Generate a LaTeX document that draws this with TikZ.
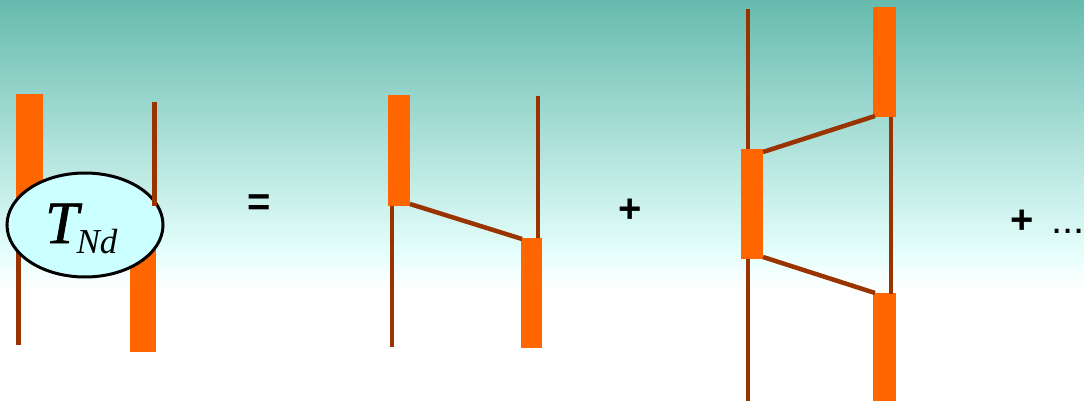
\documentclass[tikz,border=0pt]{standalone}
\usepackage{fontspec}
\setmainfont{Liberation Serif}
\newfontfamily\symfont{Liberation Sans}
\newfontface\Tface{Liberation Serif Italic}[FakeBold=1.2]
\newfontface\Nface{Liberation Serif Italic}
\usetikzlibrary{shapes.geometric,calc}
\definecolor{teal1}{RGB}{102,187,174}
\definecolor{pale}{RGB}{230,255,252}
\definecolor{barorange}{RGB}{255,102,0}
\definecolor{wirebrown}{RGB}{153,51,0}
\definecolor{ellfill}{RGB}{204,255,255}
\tikzset{
  bar/.style={rectangle, fill=barorange, draw=none, inner sep=0pt, outer sep=0pt},
  wire/.style={draw=wirebrown, line width=4.5pt},
  opsign/.style={inner sep=0pt, font=\symfont\bfseries\fontsize{40}{40}\selectfont},
}
\begin{document}
\begin{tikzpicture}[x=1pt,y=-1pt]
\useasboundingbox (0,0) rectangle (1084,401);
% background
\shade[top color=teal1, bottom color=pale] (0,0) rectangle (1084,255);
\shade[top color=pale, bottom color=white] (0,254.5) rectangle (1084,290);
\fill[white] (0,289.5) rectangle (1084,401);

% ---- diagram 1: T_Nd ----
\node[bar, minimum width=27pt, minimum height=121pt] (L1) at (29.5,154.5) {};
\node[bar, minimum width=26pt, minimum height=117pt] (R1) at (143,293.5) {};
\coordinate (l1end) at (18.5,345);
\coordinate (r1top) at (154.5,102);
\coordinate (r1end) at (154.5,206);
\draw[wire] (l1end |- L1.south) -- (l1end);
\node[ellipse, draw=black, line width=3pt, fill=ellfill, minimum width=156pt, minimum height=104pt, inner sep=0pt] (T) at (85,225) {};
\draw[wire] (r1top) -- (r1end);
\node[anchor=base west, inner sep=0pt] (tnd) at (45,243)
  {{\fontsize{60}{60}\selectfont\Tface T}\kern-2pt\raisebox{-10pt}{\fontsize{35}{35}\selectfont\Nface Nd}};

% equals
\node[opsign, anchor=base] (eq) at (259,215) {=};

% ---- diagram 2 ----
\node[bar, minimum width=22pt, minimum height=111pt] (A) at (399,150.5) {};
\node[bar, minimum width=21pt, minimum height=110pt] (B) at (531.5,293) {};
\coordinate (aend) at (392,347);
\coordinate (btop) at (538,96);
\draw[wire] (aend |- A.south) -- (aend);
\draw[wire] ($(A.south east)+(0,-2)$) -- ($(B.north west)+(1,1)$);
\draw[wire] (btop) -- (btop |- B.north);

% plus
\node[opsign, anchor=base] (plus1) at (630,222) {+};

% ---- diagram 3 ----
\node[bar, minimum width=22pt, minimum height=110pt] (C) at (752,204) {};
\node[bar, minimum width=23pt, minimum height=110pt] (D) at (884.5,62) {};
\node[bar, minimum width=23pt, minimum height=110pt] (E) at (884.5,348) {};
\coordinate (ctop) at (748,9);
\coordinate (cend) at (748,401);
\draw[wire] (ctop) -- (ctop |- C.north);
\draw[wire] (cend |- C.south) -- (cend);
\draw[wire] ($(C.north east)+(0,3)$) -- ($(D.south west)+(2,-1)$);
\draw[wire] ($(C.south east)+(0,-2)$) -- ($(E.north west)+(2,0)$);
\draw[wire] ($(D.south east)+(-5,0)$) -- ($(E.north east)+(-5,1)$);

% plus dots
\node[opsign, anchor=base west] (plus2) at (1010,233) {+\hspace{18pt}\mdseries...};
\end{tikzpicture}
\end{document}
